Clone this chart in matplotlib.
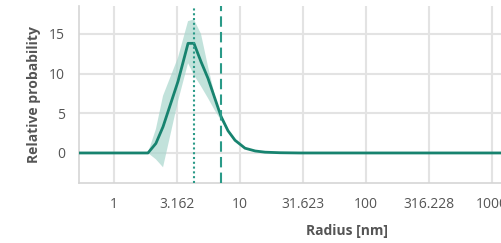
import numpy as np
import matplotlib
matplotlib.use("Agg")
import matplotlib.pyplot as plt
from matplotlib.ticker import FixedLocator, FixedFormatter

# radius grid (nm) and relative probability (mean + band)
radius = [0.53, 1.86, 2.15, 2.45, 3.22, 3.87, 4.31, 4.90, 5.57, 6.34, 7.07,
          8.03, 9.13, 10.96, 13.2, 15.8, 20.8, 29.9, 10000]
prob_mean = [0, 0, 1.2, 3.3, 9.0, 13.8, 13.8, 11.5, 9.4, 6.8, 4.6,
             2.8, 1.6, 0.6, 0.25, 0.1, 0.03, 0.0, 0]
prob_low = [0, 0, -0.8, -1.8, 6.5, 11.3, 9.8, 8.4, 6.9, 5.3, 4.1,
            2.6, 1.45, 0.55, 0.22, 0.08, 0.02, 0, 0]
prob_high = [0, 0, 3.0, 7.2, 12.0, 16.6, 16.8, 15.0, 10.9, 7.1, 4.9,
             2.95, 1.7, 0.65, 0.28, 0.12, 0.04, 0, 0]

r_mode = 4.31    # dotted line
r_mean = 7.07    # dashed line

xticks = [1, 3.162, 10, 31.623, 100, 316.228, 1000]
xticklabels = ["1", "3.162", "10", "31.623", "100", "316.228", "1000"]
yticks = [0, 5, 10, 15]

teal = "#17836f"
teal2 = "#2a9a88"
grid_c = "#e3e3e3"
txt = "#555555"

plt.rcParams['font.family'] = ['Open Sans', 'DejaVu Sans']

fig = plt.figure(figsize=(5.02, 2.43), dpi=100)
ax = fig.add_axes([79/502, 60/243, (615-79)/502, 177/243])

ax.fill_between(radius, prob_low, prob_high, color="#a9d6cd", alpha=0.7, lw=0, zorder=2)
ax.plot(radius, prob_mean, color=teal, lw=2.0, zorder=3)
ax.axvline(r_mode, color=teal2, lw=1.5, ls=(0, (1, 1.3)), zorder=4)
ax.axvline(r_mean, color=teal2, lw=1.5, ls=(0, (5, 2.5)), zorder=4)

ax.set_xscale("log")
ax.set_xlim(10 ** (-35/126), 10 ** ((615-114)/126))
ax.set_ylim(-3.78, 18.5)
ax.xaxis.set_major_locator(FixedLocator(xticks))
ax.xaxis.set_major_formatter(FixedFormatter(xticklabels))
ax.xaxis.set_minor_locator(FixedLocator([]))
ax.set_yticks(yticks)

ax.grid(True, color=grid_c, lw=1.5, zorder=0)
ax.set_axisbelow(True)
for s in ["top", "right"]:
    ax.spines[s].set_visible(False)
for s in ["left", "bottom"]:
    ax.spines[s].set_color("#d5d5d5")
    ax.spines[s].set_linewidth(1.2)

ax.tick_params(length=0, pad=10, labelsize=10, labelcolor=txt)
ax.set_xlabel("Radius [nm]", fontsize=10, fontweight="bold", color=txt, labelpad=9)
ax.set_ylabel("Relative probability", fontsize=10, fontweight="bold", color=txt, labelpad=6)

fig.savefig("out.png", dpi=100)
